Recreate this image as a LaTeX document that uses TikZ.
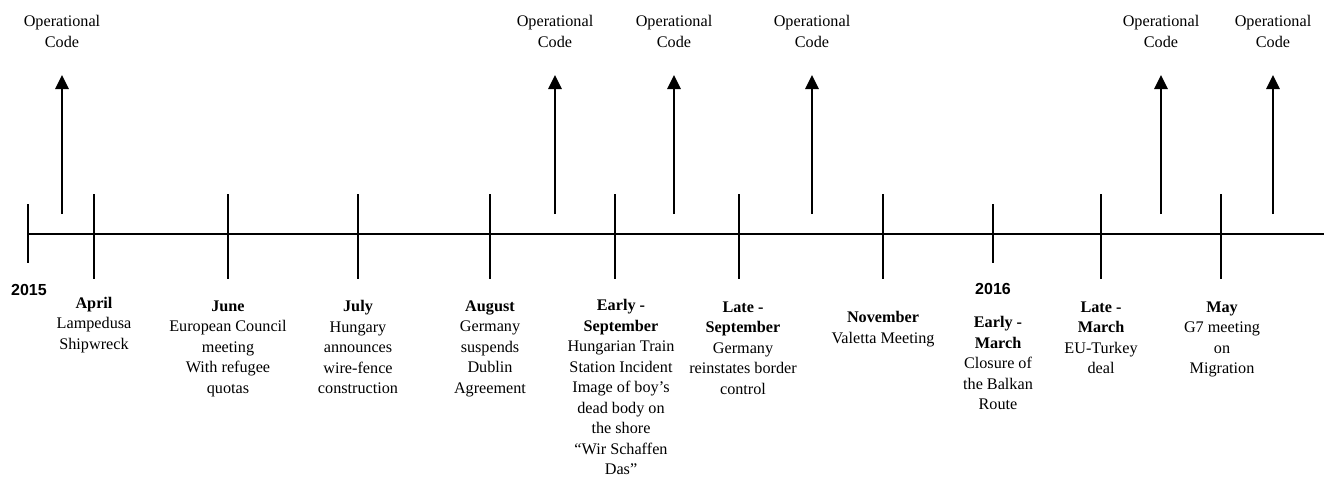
\documentclass[tikz,border=0pt]{standalone}
\usepackage{fontspec}
\setmainfont{Liberation Serif}
\newfontfamily\yearfont{Liberation Sans}
\usetikzlibrary{arrows.meta}
\begin{document}
\begin{tikzpicture}[x=1pt,y=-1pt,
  axisline/.style={line width=2.8pt},
  tickline/.style={line width=2.8pt},
  opcode/.style={-{Triangle[width=13pt,length=14pt]}, line width=2.8pt},
  lbl/.style={anchor=north, inner sep=0pt, align=center, font=\fontsize{16.2}{20.5}\selectfont},
  yr/.style={inner sep=0pt, font=\yearfont\bfseries\fontsize{16}{19}\selectfont}]
\useasboundingbox (0,0) rectangle (1324,477);
% axis
\coordinate (ax0) at (28,234);
\coordinate (ax1) at (1324,234);
\draw[axisline] (ax0) -- (ax1);
% short ticks (years)
\coordinate (y1a) at (28,204); \coordinate (y1b) at (28,263);
\coordinate (y2a) at (993,204); \coordinate (y2b) at (993,263);
\draw[tickline] (y1a) -- (y1b);
\draw[tickline] (y2a) -- (y2b);
% event ticks
\foreach \n/\x in {apr/94,jun/228,jul/358,aug/490,esep/615,lsep/739,nov/883,lmar/1101,may/1221}{
  \coordinate (\n a) at (\x,194); \coordinate (\n b) at (\x,279);
  \draw[tickline] (\n a) -- (\n b);
}
% operational code arrows
\foreach \n/\x in {o1/62,o2/555,o3/674,o4/812,o5/1161,o6/1273}{
  \coordinate (\n b) at (\x,214); \coordinate (\n t) at (\x,75);
  \draw[opcode] (\n b) -- (\n t);
  \node[lbl] (\n l) at (\x,15.5) {Operational\\Code};
}
% years
\node[yr] (yr15) at (29,290) {2015};
\node[yr] (yr16) at (993,289) {2016};
% labels
\node[lbl] (lapr) at (94,297) {\textbf{April}\\Lampedusa\\Shipwreck};
\node[lbl] (ljun) at (228,300.5) {\textbf{June}\\European Council\\meeting\\With refugee\\quotas};
\node[lbl] (ljul) at (358,300.5) {\textbf{July}\\Hungary\\announces\\wire-fence\\construction};
\node[lbl] (laug) at (490,300.5) {\textbf{August}\\Germany\\suspends\\Dublin\\Agreement};
\node[lbl] (lesep) at (621,299.5) {\textbf{Early -}\\\textbf{September}\\Hungarian Train\\Station Incident\\Image of boy’s\\dead body on\\the shore\\“Wir Schaffen\\Das”};
\node[lbl] (llsep) at (743,301.5) {\textbf{Late -}\\\textbf{September}\\Germany\\reinstates border\\control};
\node[lbl] (lnov) at (883,311.5) {\textbf{November}\\Valetta Meeting};
\node[lbl] (lemar) at (998,316.5) {\textbf{Early -}\\\textbf{March}\\Closure of\\the Balkan\\Route};
\node[lbl] (llmar) at (1101,301.5) {\textbf{Late -}\\\textbf{March}\\EU-Turkey\\deal};
\node[lbl] (lmay) at (1222,301.5) {\textbf{May}\\G7 meeting\\on\\Migration};
\end{tikzpicture}
\end{document}
